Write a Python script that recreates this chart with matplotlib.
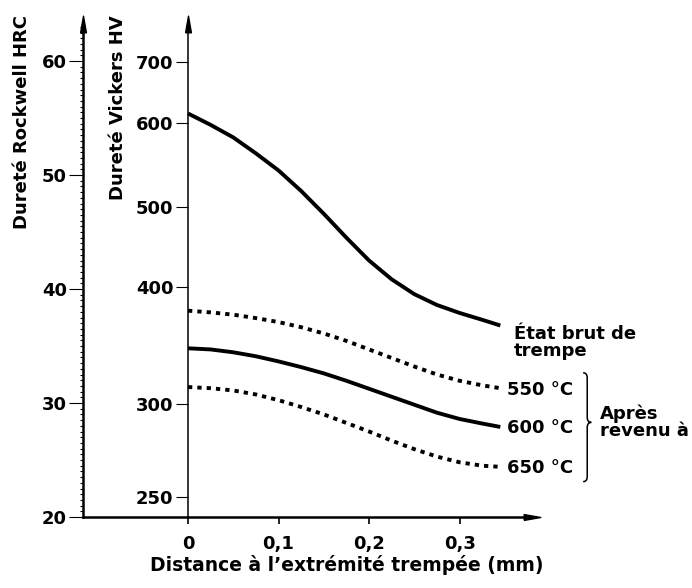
import numpy as np
import matplotlib
matplotlib.use("Agg")
import matplotlib.pyplot as plt
from matplotlib.path import Path
from matplotlib.patches import PathPatch
from matplotlib.ticker import MultipleLocator

# Distance from the quenched end (mm)
distance = [0, 0.025, 0.05, 0.075, 0.10, 0.125, 0.15, 0.175,
            0.20, 0.225, 0.25, 0.275, 0.30, 0.325, 0.345]

hrc_brut = [55.4, 54.4, 53.3, 51.9, 50.4, 48.6, 46.6, 44.5,
            42.5, 40.85, 39.55, 38.6, 37.9, 37.3, 36.8]
hrc_550 = [38.1, 37.95, 37.75, 37.45, 37.1, 36.65, 36.1, 35.45,
           34.7, 33.95, 33.2, 32.5, 31.95, 31.55, 31.3]
hrc_600 = [34.8, 34.7, 34.45, 34.1, 33.65, 33.15, 32.6, 31.95,
           31.25, 30.55, 29.85, 29.15, 28.6, 28.2, 27.9]
hrc_650 = [31.4, 31.3, 31.1, 30.75, 30.25, 29.65, 29.0, 28.25,
           27.5, 26.7, 25.95, 25.3, 24.8, 24.5, 24.4]

# HV graduations and the HRC level they line up with
hv_ticks = [250, 300, 400, 500, 600, 700]
hrc_at_hv = [21.75, 29.9, 40.2, 47.2, 54.6, 59.9]

hrc_ticks = [20, 30, 40, 50, 60]
x_ticks = [0, 0.1, 0.2, 0.3]
x_ticklabels = ["0", "0,1", "0,2", "0,3"]
temp_labels = ["550 °C", "600 °C", "650 °C"]

FS = 13
plt.rcParams["font.weight"] = "bold"
plt.rcParams["axes.labelweight"] = "bold"


def interp_ext(x, xp, fp):
    # linear interpolation, extrapolated past both ends
    x = np.asarray(x, dtype=float)
    out = np.interp(x, xp, fp)
    s_lo = (fp[1] - fp[0]) / (xp[1] - xp[0])
    s_hi = (fp[-1] - fp[-2]) / (xp[-1] - xp[-2])
    out = np.where(x < xp[0], fp[0] + (x - xp[0]) * s_lo, out)
    out = np.where(x > xp[-1], fp[-1] + (x - xp[-1]) * s_hi, out)
    return out


def hv_to_hrc(hv):
    return interp_ext(hv, hv_ticks, hrc_at_hv)


def hrc_to_hv(hrc):
    return interp_ext(hrc, hrc_at_hv, hv_ticks)


fig = plt.figure(figsize=(6.92, 5.88), dpi=100)
W, H = 692, 588
ax = fig.add_axes([83 / W, (H - 517) / H, (532 - 83) / W, (517 - 24) / H])

xmin, xmax = -0.116, 0.380
ax.set_xlim(xmin, xmax)
ax.set_ylim(20, 63.25)

for s in ["top", "right"]:
    ax.spines[s].set_visible(False)
ax.spines["left"].set_linewidth(1.8)
ax.spines["bottom"].set_linewidth(1.8)

ax.set_yticks(hrc_ticks)
ax.yaxis.set_minor_locator(MultipleLocator(0.5))
ax.tick_params(axis="y", which="major", direction="out", length=10, width=0.8,
               pad=1.5, labelsize=FS)
ax.tick_params(axis="y", which="minor", direction="out", length=2.5, width=0.8)
ax.set_xticks(x_ticks)
ax.set_xticklabels(x_ticklabels)
ax.tick_params(axis="x", direction="out", length=5, width=1.2, pad=8, labelsize=FS)

# HV scale sitting on x = 0
loc = (0 - xmin) / (xmax - xmin)
sec = ax.secondary_yaxis(loc, functions=(hrc_to_hv, hv_to_hrc))
sec.set_yticks(hv_ticks)
sec.tick_params(length=9, width=0.8, pad=1.5, labelsize=FS)
for s in sec.spines.values():
    s.set_linewidth(1.1)

# arrow heads
head = [(-0.35, -1), (0, 1), (0.35, -1), (-0.35, -1)]
ax.plot(0, 1, marker=head, ms=12, color="k", transform=ax.transAxes, clip_on=False)
ax.plot(0, 1, marker=head, ms=12, color="k", transform=ax.get_xaxis_transform(),
        clip_on=False)
head_r = [(-1, -0.35), (1, 0), (-1, 0.35), (-1, -0.35)]
ax.plot(1, 0, marker=head_r, ms=12, color="k", transform=ax.transAxes, clip_on=False)

# curves
for vals in (hrc_brut, hrc_600):
    ax.plot(distance, vals, color="k", lw=2.8, solid_capstyle="butt",
            solid_joinstyle="round")
for vals in (hrc_550, hrc_650):
    ax.plot(distance, vals, color="k", lw=2.8, ls=(0, (1.1, 1.3)),
            dash_capstyle="butt")

# labels at curve ends
ax.annotate("État brut de\ntrempe", xy=(distance[-1], hrc_brut[-1]),
            xytext=(9.5, -12), textcoords="offset points", ha="left", va="center",
            fontsize=FS, linespacing=0.95, annotation_clip=False)
ends = [hrc_550[-1], hrc_600[-1], hrc_650[-1]]
for lab, y in zip(temp_labels, ends):
    ax.annotate(lab, xy=(distance[-1], y), xytext=(5, -1),
                textcoords="offset points", ha="left", va="center",
                fontsize=FS, annotation_clip=False)

# brace grouping the tempered states
bx = 0.4365
bw = 0.0045
top = ends[0] + 1.35
bot = ends[2] - 1.3
mid = ends[1] + 0.4
r = 0.45
verts = [(bx, top), (bx + bw, top), (bx + bw, top - r),
         (bx + bw, mid + r),
         (bx + bw, mid), (bx + 2 * bw, mid),
         (bx + bw, mid), (bx + bw, mid - r),
         (bx + bw, bot + r),
         (bx + bw, bot), (bx, bot)]
codes = [Path.MOVETO, Path.CURVE3, Path.CURVE3,
         Path.LINETO,
         Path.CURVE3, Path.CURVE3,
         Path.CURVE3, Path.CURVE3,
         Path.LINETO,
         Path.CURVE3, Path.CURVE3]
ax.add_patch(PathPatch(Path(verts, codes), fill=False, lw=1.1, color="k",
                       clip_on=False))
ax.annotate("Après\nrevenu à", xy=(bx + 2 * bw, mid), xytext=(6.5, 0),
            textcoords="offset points", ha="left", va="center", fontsize=FS,
            linespacing=0.95, annotation_clip=False)

# axis titles
ax.set_xlabel("Distance à l’extrémité trempée (mm)", fontsize=13.5)
ax.xaxis.set_label_coords((347 - 83) / (532 - 83), -(555 - 517) / (517 - 24))
ax.xaxis.label.set_va("top")
fig.text(22 / W, 1 - 15 / H, "Dureté Rockwell HRC", rotation=90, ha="center",
         va="top", fontsize=13)
fig.text(118 / W, 1 - 15 / H, "Dureté Vickers HV", rotation=90, ha="center",
         va="top", fontsize=13)

fig.savefig("out.png", dpi=100)
